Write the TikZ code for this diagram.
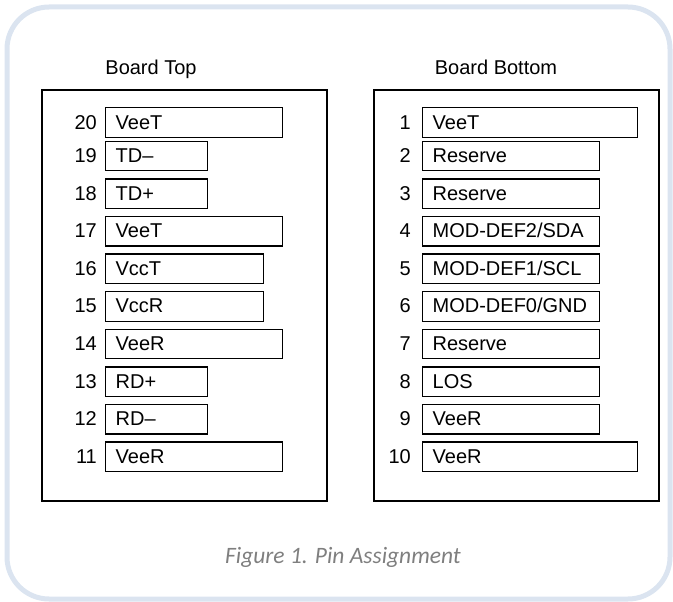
\documentclass[tikz,border=0pt]{standalone}
\usepackage{fontspec}
\setmainfont{Liberation Sans}
\newfontfamily\capfont{Carlito}
\definecolor{framecol}{HTML}{DBE4F0}
\definecolor{capcol}{HTML}{7F7F7F}
\tikzset{
    board/.style={draw,line width=1.4pt},
    pinbox/.style={draw,line width=1.3pt,anchor=west,minimum height=29.5pt,inner xsep=10pt,inner ysep=0pt,text height=14pt,text depth=1pt,text width=#1,align=left},
    pinnum/.style={anchor=east,inner sep=0pt,text height=14pt,text depth=1pt},
    title/.style={anchor=base,inner sep=0pt}
}
\begin{document}
\begin{tikzpicture}[x=1pt,y=-1pt,font=\fontsize{20}{23}\selectfont]
    \pgfmathsetmacro{\firstrow}{122.5}
    \pgfmathsetmacro{\rowstart}{156}
    \pgfmathsetmacro{\rowpitch}{37.6}
    \useasboundingbox (0,0) rectangle (673,602);
    % outer frame
    \draw[framecol,line width=5pt,rounded corners=42pt] (7,7) rectangle (670,599);
    % the two boards
    \draw[board] (42,90) rectangle (327,501);
    \draw[board] (374,90) rectangle (659,501);
    \node[title] (toptitle) at (151,75) {Board Top};
    \node[title] (bottomtitle) at (496,75) {Board Bottom};
    % board top pins
    \foreach \row/\pin/\signal/\w in {1/20/VeeT/157,2/19/TD–/82,3/18/TD+/82,4/17/VeeT/157,5/16/VccT/138,6/15/VccR/138,7/14/VeeR/157,8/13/RD+/82,9/12/RD–/82,10/11/VeeR/157}
    {
        \pgfmathsetmacro{\y}{\row==1 ? \firstrow : \rowstart+(\row-2)*\rowpitch}
        \node[pinnum] (n\pin) at (97,\y) {\pin};
        \node[pinbox=\w pt] (s\pin) at (105,\y) {\mbox{\signal}};
    }
    % board bottom pins
    \foreach \row/\pin/\signal/\w in {1/1/VeeT/195,2/2/Reserve/157,3/3/Reserve/157,4/4/{MOD-DEF2/SDA}/157,5/5/{MOD-DEF1/SCL}/157,6/6/{MOD-DEF0/GND}/157,7/7/Reserve/157,8/8/LOS/157,9/9/VeeR/157,10/10/VeeR/195}
    {
        \pgfmathsetmacro{\y}{\row==1 ? \firstrow : \rowstart+(\row-2)*\rowpitch}
        \node[pinnum] (n\pin) at (411,\y) {\pin};
        \node[pinbox=\w pt] (s\pin) at (422,\y) {\mbox{\signal}};
    }
    \node[anchor=base,text=capcol,font=\capfont\itshape\fontsize{23.5}{26}\selectfont] (caption) at (343,563) {Figure 1. Pin Assignment};
\end{tikzpicture}
\end{document}
